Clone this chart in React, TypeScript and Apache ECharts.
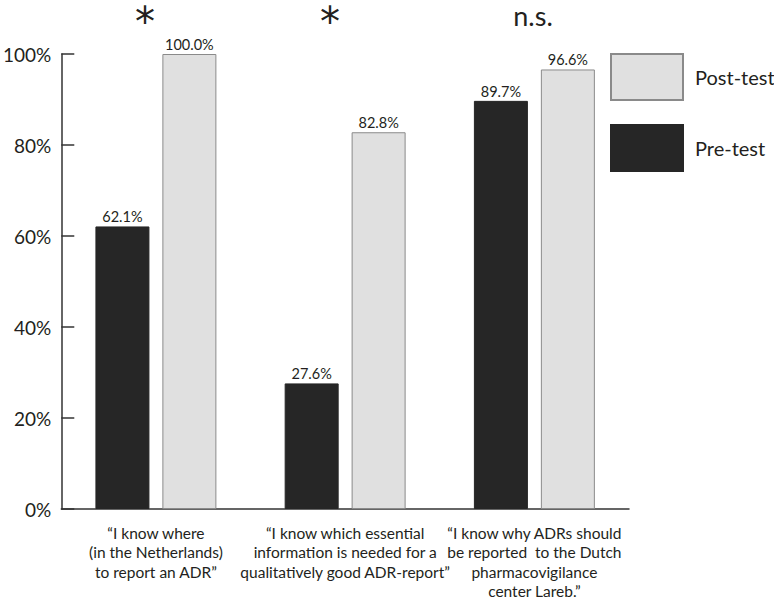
import React, { useEffect, useRef } from "react";
import * as echarts from "echarts";

const categories = [
  "\u201cI know where\n(in the Netherlands)\nto report an ADR\u201d",
  "\u201cI know which essential\ninformation is needed for a\nqualitatively good ADR-report\u201d",
  "\u201cI know why ADRs should\nbe reported  to the Dutch\npharmacovigilance\ncenter Lareb.\u201d",
];
const preTest = [62.1, 27.6, 89.7];
const postTest = [100.0, 82.8, 96.6];
const significance = ["*", "*", "n.s."];
const yTicks = [0, 20, 40, 60, 80, 100];

const FONT = "Lato, 'Open Sans', sans-serif";
const INK = "#231f20";

export default function App() {
  const ref = useRef<HTMLDivElement>(null);
  useEffect(() => {
    if (!ref.current) return;
    document.body.style.margin = "0";
    const chart = echarts.init(ref.current, null, { renderer: "svg" });
    const sigPos = [
      { x: 145, y: 22, size: 40, font: "'DejaVu Sans', sans-serif" },
      { x: 330, y: 22, size: 40, font: "'DejaVu Sans', sans-serif" },
      { x: 533, y: 15, size: 27, font: FONT },
    ];
    chart.setOption({
      animation: false,
      textStyle: { fontFamily: FONT },
      grid: { left: 58, right: 145, top: 54, bottom: 85, containLabel: false },
      legend: {
        data: ["Post-test", "Pre-test"],
        orient: "vertical",
        left: 610,
        top: 53,
        padding: 0,
        itemWidth: 72,
        itemHeight: 46,
        itemGap: 23,
        icon: "rect",
        selectedMode: false,
        textStyle: { fontSize: 20, color: INK, fontFamily: FONT, padding: [0, 0, 0, 7] },
      },
      xAxis: {
        type: "category",
        data: categories,
        axisLine: { lineStyle: { color: "#333", width: 1.5 } },
        axisTick: { inside: true, length: 11, lineStyle: { color: "#333", width: 1.5 } },
        axisLabel: {
          interval: 0,
          margin: 14,
          fontSize: 15.5,
          lineHeight: 19.5,
          color: INK,
          fontFamily: FONT,
          align: "center",
        },
      },
      yAxis: {
        type: "value",
        min: 0,
        max: 100,
        interval: 20,
        splitLine: { show: false },
        axisLine: { show: true, lineStyle: { color: "#333", width: 1.5 } },
        axisTick: { show: true, inside: true, length: 13, lineStyle: { color: "#333", width: 1.5 } },
        axisLabel: {
          fontSize: 19,
          color: INK,
          fontFamily: FONT,
          margin: 10,
          formatter: (v: number) => (yTicks.includes(v) ? v + "%" : ""),
        },
      },
      series: [
        {
          name: "Pre-test",
          type: "bar",
          data: preTest,
          barWidth: 54,
          barGap: "24%",
          itemStyle: { color: "#262626", borderColor: "#262626", borderWidth: 1 },
          label: {
            show: true,
            position: "top",
            distance: 2,
            fontSize: 14.5,
            color: INK,
            fontFamily: FONT,
            formatter: (p: any) => p.value.toFixed(1) + "%",
          },
        },
        {
          name: "Post-test",
          type: "bar",
          data: postTest,
          barWidth: 54,
          barGap: "24%",
          itemStyle: { color: "#e0e0e0", borderColor: "#8a8a8a", borderWidth: 1 },
          label: {
            show: true,
            position: "top",
            distance: 2,
            fontSize: 14.5,
            color: INK,
            fontFamily: FONT,
            formatter: (p: any) => p.value.toFixed(1) + "%",
          },
        },
      ],
      graphic: significance.map((s, i) => ({
        type: "text",
        x: sigPos[i].x,
        y: sigPos[i].y,
        style: {
          text: s,
          fontSize: sigPos[i].size,
          fontFamily: sigPos[i].font,
          fill: INK,
          align: "center",
          verticalAlign: "middle",
        },
      })),
    });
    return () => chart.dispose();
  }, []);
  return <div ref={ref} style={{ width: 774, height: 601 }} />;
}
